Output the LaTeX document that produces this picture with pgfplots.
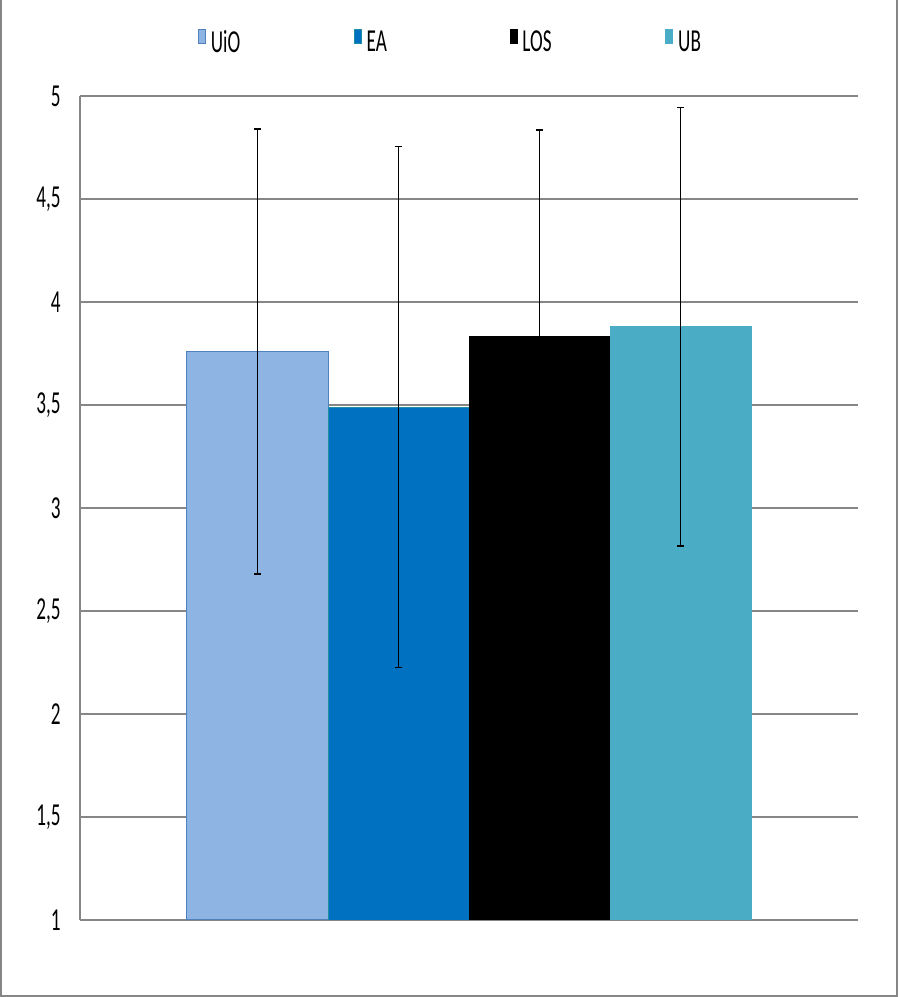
\documentclass[border=0pt]{standalone}
\usepackage{fontspec}
\setmainfont{Carlito}[FakeStretch=0.6]
\usepackage{pgfplots}
\pgfplotsset{compat=1.18}
\definecolor{uio}{HTML}{8EB4E3}
\definecolor{uioedge}{HTML}{4F81BD}
\definecolor{ea}{HTML}{0070C0}
\definecolor{eaedge}{HTML}{1F8FA8}
\definecolor{ub}{HTML}{4BACC6}
\definecolor{gridc}{HTML}{868686}
\begin{document}
\fontsize{16}{19}\selectfont
\begin{tikzpicture}
\path[use as bounding box] (0pt,0pt) rectangle (449.5pt,498.5pt);
\draw[gridc, line width=1pt] (0.5pt,498.5pt) -- (0.5pt,0.5pt) -- (448.5pt,0.5pt) -- (448.5pt,498.5pt);
\begin{axis}[
  at={(40pt,38.5pt)}, anchor=south west,
  width=389pt, height=412pt, scale only axis,
  xmin=0, xmax=2, ymin=1, ymax=5,
  ybar=0pt, bar width=70.5pt,
  xtick=\empty,
  ytick={1,1.5,2,2.5,3,3.5,4,4.5,5},
  /pgf/number format/assume math mode=true,
  yticklabel style={/pgf/number format/.cd, use comma, fixed, /tikz/.cd, inner sep=0pt, xshift=-9.5pt},
  major tick length=0pt,
  axis x line*=bottom, axis y line*=left,
  axis line style={draw=gridc, line width=0.7pt, -},
  ymajorgrids, grid style={draw=gridc, line width=0.7pt},
  legend columns=4,
  legend style={at={(0.5,1)}, anchor=center, xshift=-9.75pt, yshift=26.5pt,
    draw=none, fill=none, inner sep=0pt, column sep=0pt, nodes={inner sep=0pt}},
  legend image code/.code={\draw[#1, line width=0.4pt] (0pt,0pt) rectangle (3.5pt,7pt);},
  error bars/error bar style={line width=0.5pt, black},
  error bars/error mark options={black, line width=0.8pt, mark size=1.6pt, rotate=90},
]
\addplot[fill=uio, draw=uioedge, line width=0.5pt, error bars/.cd, y dir=both, y explicit]
  coordinates {(1,3.76) +- (0,1.08)};
\addlegendentry{\makebox[74pt][l]{\hspace{2.5pt}UiO}}
\addplot[fill=ea, draw=eaedge, line width=0.4pt, error bars/.cd, y dir=both, y explicit]
  coordinates {(1,3.49) +- (0,1.265)};
\addlegendentry{\makebox[74pt][l]{\hspace{2.5pt}EA}}
\addplot[fill=black, draw=black, line width=0.4pt, error bars/.cd, y dir=both, y explicit]
  coordinates {(1,3.835) +- (0,1.0)};
\addlegendentry{\makebox[74pt][l]{\hspace{2.5pt}LOS}}
\addplot[fill=ub, draw=ub, line width=0.4pt, error bars/.cd, y dir=both, y explicit]
  coordinates {(1,3.88) +- (0,1.065)};
\addlegendentry{\hspace{2.5pt}UB}
\end{axis}
\end{tikzpicture}
\end{document}
